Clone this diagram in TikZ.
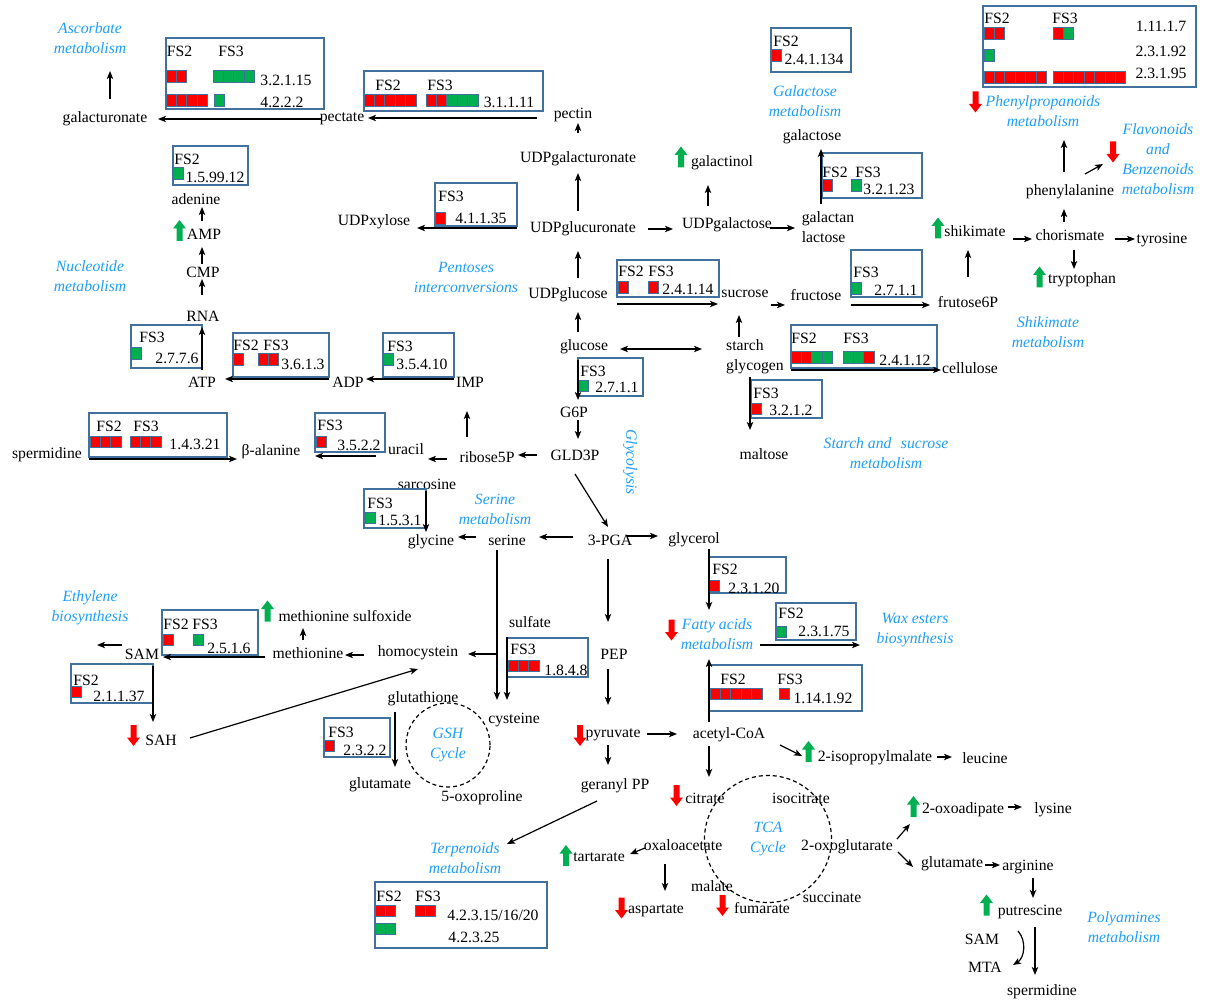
\documentclass[tikz,border=0pt]{standalone}
\usepackage{fontspec}
\setmainfont{Liberation Serif}
\usetikzlibrary{arrows.meta,calc,fit}

\definecolor{boxc}{HTML}{41719C}
\definecolor{labblue}{RGB}{30,158,250}
\definecolor{sqred}{HTML}{FF0000}
\definecolor{sqgreen}{HTML}{00B050}

\tikzset{
  ebox/.style={draw=boxc, line width=0.7pt, inner sep=0pt},
  lab/.style={text=labblue, font=\fontsize{7.85}{10}\selectfont\itshape, align=center},
  cyc/.style={lab, circle, draw=black, dash pattern=on 2pt off 1.5pt, line width=0.6pt, inner sep=0pt},
  upmark/.pic={\fill[sqgreen] (0,-10.5) -- (6.5,-2) -- (3,-2) -- (3,10.5) -- (-3,10.5) -- (-3,-2) -- (-6.5,-2) -- cycle;},
  downmark/.pic={\fill[sqred] (0,10.5) -- (6.5,2) -- (3,2) -- (3,-10.5) -- (-3,-10.5) -- (-3,2) -- (-6.5,2) -- cycle;},
}

% row of expression squares: x, y, colours
\newcommand\cells[3]{\foreach \col [count=\i from 0] in {#3}{\filldraw[fill=\col,draw=boxc,line width=0.5pt] (#1+10.4*\i,#2) rectangle ++(10.4,11.5);}}

\begin{document}
\begin{tikzpicture}[x=0.5pt,y=-0.5pt,font=\fontsize{7.85}{10}\selectfont,
  line width=0.6pt, >={Stealth[length=4pt,width=3.2pt,inset=1pt]}]

\useasboundingbox (0,0) rectangle (1205,1000);

\begin{scope}[yshift=-1pt]
% metabolites
\node (galur) at (105,117) {galacturonate};
\node (pectate) at (342,117) {pectate};
\node (pectin) at (573,113) {pectin};
\node (udpgalur) at (578,157) {UDPgalacturonate};
\node (udpglcur) at (583,227) {UDPglucuronate};
\node (udpxyl) at (374,220) {UDPxylose};
\node (udpgal) at (727,223) {UDPgalactose};
\node (galactinol) at (722,161) {galactinol};
\node (galactose) at (812,135) {galactose};
\node[align=left] (galactan) at (828,225) {galactan\\lactose};
\node (udpglc) at (568,293) {UDPglucose};
\node (sucrose) at (745,292) {sucrose};
\node (fructose) at (816,293) {fructose};
\node (fru6p) at (968,300) {frutose6P};
\node (shikimate) at (975,229) {shikimate};
\node (chorismate) at (1070,233) {chorismate};
\node (tyrosine) at (1162,238) {tyrosine};
\node (tryptophan) at (1082,278) {tryptophan};
\node (phe) at (1070,190) {phenylalanine};
\node (adenine) at (196,197) {adenine};
\node (amp) at (204,232) {AMP};
\node (cmp) at (203,270) {CMP};
\node (rna) at (203,314) {RNA};
\node (atp) at (202,380) {ATP};
\node (adp) at (348,380) {ADP};
\node (imp) at (470,380) {IMP};
\node (glucose) at (584,345) {glucose};
\node[align=left] (starch) at (755,355) {starch\\glycogen};
\node (cellulose) at (970,366) {cellulose};
\node (maltose) at (764,452) {maltose};
\node (g6p) at (574,410) {G6P};
\node (gld3p) at (575,453) {GLD3P};
\node (ribose) at (487,455) {ribose5P};
\node (uracil) at (406,447) {uracil};
\node (bala) at (271,450) {β-alanine};
\node (spd) at (47,453) {spermidine};
\node (sarcosine) at (427,482) {sarcosine};
\node (glycine) at (431,540) {glycine};
\node (serine) at (507,538) {serine};
\node (pga) at (610,538) {3-PGA};
\node (glycerol) at (694,538) {glycerol};
\node (pep) at (614,652) {PEP};
\node (sulfate) at (530,620) {sulfate};
\node (hcys) at (418,651) {homocystein};
\node (met) at (308,651) {methionine};
\node (metso) at (345,614) {methionine sulfoxide};
\node (sam) at (142,652) {SAM};
\node (sah) at (161,738) {SAH};
\node (gsh) at (423,697) {glutathione};
\node (cys) at (514,718) {cysteine};
\node (glu) at (380,783) {glutamate};
\node (oxopro) at (482,796) {5-oxoproline};
\node (pyr) at (613,733) {pyruvate};
\node (acoa) at (729,733) {acetyl-CoA};
\node (gpp) at (615,784) {geranyl PP};
\node (ipm) at (875,756) {2-isopropylmalate};
\node (leu) at (985,756) {leucine};
\node (cit) at (705,796) {citrate};
\node (icit) at (801,796) {isocitrate};
\node (oaa) at (683,843) {oxaloacetate};
\node (akg) at (847,845) {2-oxoglutarate};
\node (tart) at (599,855) {tartarate};
\node (mal) at (712,884) {malate};
\node (asp) at (656,909) {aspartate};
\node (fum) at (762,906) {fumarate};
\node (suc) at (832,895) {succinate};
\node (oad) at (963,808) {2-oxoadipate};
\node (lys) at (1053,808) {lysine};
\node (glub) at (952,862) {glutamate};
\node (arg) at (1028,865) {arginine};
\node (put) at (1030,910) {putrescine};
\node (samb) at (982,937) {SAM};
\node (mta) at (985,965) {MTA};
\node (spdb) at (1042,990) {spermidine};
\end{scope}

% pathway labels
\node[lab] (ascorbate) at (90,38) {Ascorbate\\metabolism};
\node[lab] (nucleo) at (90,276) {Nucleotide\\metabolism};
\node[lab] (pentoses) at (466,277) {Pentoses\\interconversions};
\node[lab] (galmet) at (805,101) {Galactose\\metabolism};
\node[lab] (phenylprop) at (1043,111) {Phenylpropanoids\\metabolism};
\node[lab] (flavo) at (1158,159) {Flavonoids\\and\\Benzenoids\\metabolism};
\node[lab] (shikmet) at (1048,332) {Shikimate\\metabolism};
\node[lab] (starchmet) at (886,453) {Starch and\hspace{0.6em}sucrose\\metabolism};
\node[lab, rotate=-90] (glycolysis) at (630,462) {Glycolysis};
\node[lab] (sermet) at (495,509) {Serine\\metabolism};
\node[lab] (ethylene) at (90,608) {Ethylene\\biosynthesis};
\node[lab] (fatty) at (717,634) {Fatty acids\\metabolism};
\node[lab] (wax) at (915,630) {Wax esters\\biosynthesis};
\node[lab] (terpmet) at (465,858) {Terpenoids\\metabolism};
\node[lab] (polymet) at (1124,927) {Polyamines\\metabolism};
\node[cyc, minimum size=42pt] (gshcyc) at (448,745) {GSH\\Cycle};
\node[cyc, minimum size=63.5pt] (tcacyc) at (768,839) {TCA\\Cycle};

% up / down changes
\pic at (179.5,230.5) {upmark};
\pic at (681,157) {upmark};
\pic at (938,228) {upmark};
\pic at (1039.5,277) {upmark};
\pic at (267.5,611) {upmark};
\pic at (808.5,751.5) {upmark};
\pic at (566,855.5) {upmark};
\pic at (913.5,806.5) {upmark};
\pic at (986.5,905) {upmark};
\pic at (975.5,102) {downmark};
\pic at (1113,152) {downmark};
\pic at (133.5,735.5) {downmark};
\pic at (580,735.5) {downmark};
\pic at (671.5,630) {downmark};
\pic at (676.5,795.5) {downmark};
\pic at (621.5,908) {downmark};
\pic at (722.5,905.5) {downmark};

% enzyme boxes
\node[ebox, fit={(166,38) (324,109)}] (b32115) {};
\cells{166}{71}{sqred,sqred}
\cells{213}{71}{sqgreen,sqgreen,sqgreen,sqgreen}
\cells{166}{95}{sqred,sqred,sqred,sqred}
\cells{214}{95}{sqgreen}

\node[ebox, fit={(364,71) (543,111)}] (b31111) {};
\cells{364}{95}{sqred,sqred,sqred,sqred,sqred}
\cells{426}{95}{sqred,sqred,sqgreen,sqgreen,sqgreen}

\node[ebox, fit={(173,146) (248,185)}] (b159912) {};
\cells{173}{168}{sqgreen}

\node[ebox, fit={(435,183) (517,226)}] (b41135) {};
\cells{435}{213}{sqred}

\node[ebox, fit={(771,28) (851,72)}] (b241134) {};
\cells{771}{50}{sqred}

\node[ebox, fit={(983,6) (1196,87)}] (bphe) {};
\cells{984}{28}{sqred,sqred}
\cells{1053}{28}{sqred,sqgreen}
\cells{984}{50}{sqgreen}
\cells{984}{72}{sqred,sqred,sqred,sqred,sqred,sqred}
\cells{1053}{72}{sqred,sqred,sqred,sqred,sqred,sqred,sqred}

\node[ebox, fit={(822,153) (922,198)}] (b32123) {};
\cells{822}{180}{sqred}
\cells{851}{180}{sqgreen}

\node[ebox, fit={(617,260) (719,297)}] (b24114) {};
\cells{618}{282}{sqred}
\cells{648}{282}{sqred}

\node[ebox, fit={(851,250) (922,297)}] (b2711a) {};
\cells{851}{283}{sqgreen}

\node[ebox, fit={(791,325) (937,368)}] (b24112) {};
\cells{791}{352}{sqred,sqred,sqgreen,sqgreen}
\cells{843}{352}{sqgreen,sqgreen,sqred}

\node[ebox, fit={(751,380) (822,418)}] (b3212) {};
\cells{751}{403}{sqred}

\node[ebox, fit={(578,358) (643,396)}] (b2711b) {};
\cells{578}{380}{sqgreen}

\node[ebox, fit={(131,325) (202,368)}] (b2776) {};
\cells{131}{348}{sqgreen}

\node[ebox, fit={(233,333) (329,377)}] (b3613) {};
\cells{233}{354}{sqred}
\cells{258}{354}{sqred,sqred}

\node[ebox, fit={(383,333) (454,377)}] (b35410) {};
\cells{383}{354}{sqgreen}

\node[ebox, fit={(89,413) (227,457)}] (b14321) {};
\cells{90}{436}{sqred,sqred,sqred}
\cells{130}{436}{sqred,sqred,sqred}

\node[ebox, fit={(315,413) (385,452)}] (b3522) {};
\cells{316}{436}{sqred}

\node[ebox, fit={(364,489) (426,528)}] (b1531) {};
\cells{365}{512}{sqgreen}

\node[ebox, fit={(162,610) (258,655)}] (b2516) {};
\cells{163}{634}{sqred}
\cells{193}{634}{sqgreen}

\node[ebox, fit={(71,664) (153,703)}] (b21137) {};
\cells{71}{686}{sqred}

\node[ebox, fit={(324,718) (390,757)}] (b2322) {};
\cells{324}{740}{sqred}

\node[ebox, fit={(507,638) (588,677)}] (b1848) {};
\cells{508}{660}{sqred,sqred,sqred}

\node[ebox, fit={(709,557) (786,593)}] (b23120) {};
\cells{709}{580}{sqred}

\node[ebox, fit={(776,603) (856,640)}] (b23175) {};
\cells{776}{626}{sqgreen}

\node[ebox, fit={(709,665) (862,711)}] (b114192) {};
\cells{710}{688}{sqred,sqred,sqred,sqred,sqred}
\cells{779}{688}{sqred}

\node[ebox, fit={(375,882) (547,948)}] (b4231) {};
\cells{375}{905}{sqred,sqred}
\cells{375}{923}{sqgreen,sqgreen}
\cells{415}{905}{sqred,sqred}

% box texts
\begin{scope}[yshift=-0.8pt]
\node (b32115a) at (179.5,50) {FS2};
\node (b32115b) at (231,50) {FS3};
\node (b32115e) at (286,79) {3.2.1.15};
\node (b4222e) at (282,101) {4.2.2.2};
\node (b31111a) at (388,84) {FS2};
\node (b31111b) at (440,84) {FS3};
\node (b31111e) at (509,101) {3.1.1.11};
\node (b159912a) at (187,158) {FS2};
\node (b159912e) at (215,176) {1.5.99.12};
\node (b41135a) at (451,195) {FS3};
\node (b41135e) at (481,217) {4.1.1.35};
\node (b241134a) at (786,40) {FS2};
\node (b241134e) at (814,58) {2.4.1.134};
\node (bphea) at (997,17) {FS2};
\node (bpheb) at (1065,17) {FS3};
\node (bphee) at (1161,25) {1.11.1.7};
\node (bphef) at (1161,50) {2.3.1.92};
\node (bpheg) at (1161,72) {2.3.1.95};
\node (b32123a) at (835,171) {FS2};
\node (b32123b) at (868,171) {FS3};
\node (b32123e) at (889,188) {3.2.1.23};
\node (b24114a) at (631,270) {FS2};
\node (b24114b) at (661,270) {FS3};
\node (b24114e) at (688,288) {2.4.1.14};
\node (b2711aa) at (866,271) {FS3};
\node (b2711ae) at (896,289) {2.7.1.1};
\node (b24112a) at (804,337) {FS2};
\node (b24112b) at (856,337) {FS3};
\node (b24112e) at (905,359) {2.4.1.12};
\node (b3212a) at (766,392) {FS3};
\node (b3212e) at (791,409) {3.2.1.2};
\node (b2711ba) at (593,370) {FS3};
\node (b2711be) at (617,386) {2.7.1.1};
\node (b2776a) at (152,336) {FS3};
\node (b2776e) at (177,357) {2.7.7.6};
\node (b3613a) at (246,344) {FS2};
\node (b3613b) at (276,344) {FS3};
\node (b3613e) at (303,363) {3.6.1.3};
\node (b35410a) at (400,345) {FS3};
\node (b35410e) at (422,363) {3.5.4.10};
\node (b14321a) at (109,425) {FS2};
\node (b14321b) at (146,425) {FS3};
\node (b14321e) at (195,443) {1.4.3.21};
\node (b3522a) at (330,424) {FS3};
\node (b3522e) at (359,444) {3.5.2.2};
\node (b1531a) at (380,502) {FS3};
\node (b1531e) at (400,519) {1.5.3.1};
\node (b2516a) at (176,623) {FS2};
\node (b2516b) at (205,623) {FS3};
\node (b2516e) at (229,647) {2.5.1.6};
\node (b21137a) at (86,679) {FS2};
\node (b21137e) at (119,695) {2.1.1.37};
\node (b2322a) at (341,731) {FS3};
\node (b2322e) at (365,749) {2.3.2.2};
\node (b1848a) at (523,648) {FS3};
\node (b1848e) at (566,669) {1.8.4.8};
\node (b23120a) at (725,568) {FS2};
\node (b23120e) at (754,587) {2.3.1.20};
\node (b23175a) at (791,612) {FS2};
\node (b23175e) at (824,630) {2.3.1.75};
\node (b114192a) at (733,678) {FS2};
\node (b114192b) at (790,678) {FS3};
\node (b114192e) at (823,697) {1.14.1.92};
\node (b4231a) at (389,895) {FS2};
\node (b4231b) at (428,895) {FS3};
\node (b4231e) at (493,914) {4.2.3.15/16/20};
\node (b4231f) at (474,936) {4.2.3.25};
\end{scope}

% reactions
\begin{scope}[yshift=1pt]
\draw[->] ($(pectate)+(-21,0)$) -- ($(galur)+(53,0)$);
\draw[->] ($(galur)+(5,-20)$) -- ($(ascorbate)+(20,33)$);
\draw[->] ($(pectin)+(-36,3)$) -- ($(pectate)+(26,-1)$);
\draw[->] ($(udpgalur)+(0,-26)$) -- ($(pectin)+(5,8)$);
\draw[->] ($(udpglcur)+(-5,-18)$) -- ($(udpgalur)+(0,14)$);
\draw[->] ($(udpglc)+(10,-17)$) -- ($(udpglcur)+(-5,22)$);
\draw[->] ($(glucose)+(-6,-15)$) -- ($(udpglc)+(10,17)$);
\draw[->] ($(udpglcur)+(-66,-1)$) -- ($(udpxyl)+(43,6)$);
\draw[->] ($(udpglcur)+(65,0)$) -- ($(udpgal)+(-54,4)$);
\draw[->] ($(udpgal)+(-19,-19)$) -- ($(galactinol)+(-14,22)$);
\draw[->] ($(udpgal)+(43,3)$) -- ($(galactan)+(-33,1)$);
\draw[->] ($(galactan)+(-7,-23)$) -- ($(galactose)+(9,12)$);
\draw[->] ($(udpglc)+(49,9)$) -- ($(sucrose)+(-27,10)$);
\draw[->] ($(sucrose)+(26,11)$) -- ($(fructose)+(-31,10)$);
\draw[->] ($(fructose)+(35,10)$) -- ($(fru6p)+(-38,3)$);
\draw[->] ($(fru6p)+(0,-25)$) -- ($(shikimate)+(-7,19)$);
\draw[->] ($(shikimate)+(38,8)$) -- ($(chorismate)+(-38,4)$);
\draw[->] ($(chorismate)+(45,4)$) -- ($(tyrosine)+(-27,-1)$);
\draw[->] ($(chorismate)+(4,15)$) -- ($(tryptophan)+(-8,-11)$);
\draw[->] ($(chorismate)+(-6,-13)$) -- ($(phe)+(-6,17)$);
\draw[->] ($(phe)+(-6,-20)$) -- ($(phenylprop)+(21,29)$);
\draw[->] ($(phe)+(15,-18)$) -- ($(flavo)+(-55,5)$);
\draw[->] ($(starch)+(-16,-20)$) -- ($(sucrose)+(-6,21)$);
\draw[<->] ($(glucose)+(36,2)$) -- ($(starch)+(-53,-8)$);
\draw[->] ($(starch)+(36,13)$) -- ($(cellulose)+(-29,2)$);
\draw[->] ($(starch)+(-5,20)$) -- ($(maltose)+(-14,-24)$);
\draw[->] ($(glucose)+(-6,13)$) -- ($(g6p)+(4,-12)$);
\draw[->] ($(g6p)+(4,8)$) -- ($(gld3p)+(3,-16)$);
\draw[->] ($(gld3p)+(0,19)$) -- ($(pga)+(-2,-13)$);
\draw[->] ($(gld3p)+(-38,0)$) -- ($(ribose)+(31,-2)$);
\draw[->] ($(ribose)+(-20,-20)$) -- ($(imp)+(-3,29)$);
\draw[->] ($(ribose)+(-40,2)$) -- ($(uracil)+(22,10)$);
\draw[->] ($(uracil)+(-30,7)$) -- ($(bala)+(44,4)$);
\draw[->] ($(spd)+(42,4)$) -- ($(bala)+(-34,7)$);
\draw[->] ($(imp)+(-16,-3)$) -- ($(adp)+(18,-3)$);
\draw[->] ($(adp)+(-19,-3)$) -- ($(atp)+(23,-3)$);
\draw[->] ($(atp)+(0,-12)$) -- ($(rna)+(-1,11)$);
\draw[->] ($(rna)+(-1,-21)$) -- ($(cmp)+(-1,7)$);
\draw[->] ($(cmp)+(-1,-8)$) -- ($(amp)+(-2,13)$);
\draw[->] ($(amp)+(-2,-13)$) -- ($(adenine)+(6,8)$);
\draw[->] ($(sarcosine)+(-1,7)$) -- ($(glycine)+(-5,-10)$);
\draw[->] ($(pga)+(-37,-3)$) -- ($(serine)+(32,-3)$);
\draw[->] ($(serine)+(-31,-3)$) -- ($(glycine)+(27,-5)$);
\draw[->] ($(pga)+(17,-4)$) -- ($(glycerol)+(-36,-4)$);
\draw[->] ($(pga)+(-2,19)$) -- ($(pep)+(-6,-32)$);
\draw[->] ($(glycerol)+(15,9)$) -- ($(fatty)+(-8,-24)$);
\draw[->] ($(fatty)+(43,11)$) -- ($(wax)+(-55,15)$);
\draw[->] ($(acoa)+(-20,-13)$) -- ($(fatty)+(-8,25)$);
\draw[->] ($(serine)+(-10,10)$) -- ($(cys)+(-17,-20)$);
\draw[->] ($(serine)+(-10,114)$) -- ($(hcys)+(50,1)$);
\draw[->] ($(sulfate)+(-23,15)$) -- ($(cys)+(-7,-20)$);
\draw[->] ($(hcys)+(-54,2)$) -- ($(met)+(37,2)$);
\draw[->] ($(met)+(-5,-13)$) -- ($(metso)+(-42,12)$);
\draw[->] ($(met)+(-43,4)$) -- ($(sam)+(21,3)$);
\draw[->] ($(sam)+(-20,-9)$) -- ($(ethylene)+(7,37)$);
\draw[->] ($(sam)+(11,12)$) -- ($(sah)+(-8,-18)$);
\draw[->] ($(sah)+(29,-2)$) -- ($(hcys)+(0,16)$);
\draw[->] ($(gsh)+(-28,13)$) -- ($(glu)+(15,-18)$);
\draw[->] ($(pep)+(-6,15)$) -- ($(pyr)+(-5,-30)$);
\draw[->] ($(pyr)+(34,-1)$) -- ($(acoa)+(-52,-1)$);
\draw[->] ($(pyr)+(-5,10)$) -- ($(gpp)+(-7,-21)$);
\draw[->] ($(gpp)+(-18,15)$) -- ($(terpmet)+(42,-14)$);
\draw[->] ($(acoa)+(-20,11)$) -- ($(cit)+(4,-21)$);
\draw[->] ($(acoa)+(51,10)$) -- ($(ipm)+(-73,-2)$);
\draw[->] ($(ipm)+(62,-1)$) -- ($(leu)+(-33,-1)$);
\draw[->] ($(oaa)+(-38,3)$) -- ($(tart)+(31,-3)$);
\draw[->] ($(oaa)+(-18,19)$) -- ($(asp)+(9,-20)$);
\draw[->] ($(akg)+(50,-8)$) -- ($(oad)+(-53,14)$);
\draw[->] ($(oad)+(45,-3)$) -- ($(lys)+(-31,-3)$);
\draw[->] ($(akg)+(51,5)$) -- ($(glub)+(-39,3)$);
\draw[->] ($(glub)+(33,1)$) -- ($(arg)+(-28,-2)$);
\draw[->] ($(arg)+(5,11)$) -- ($(put)+(3,-14)$);
\draw[->] ($(put)+(5,15)$) -- ($(spdb)+(-7,-17)$);
\draw[->] ($(samb)+(36,-8)$) to[bend left=50] ($(mta)+(28,-2)$);
\end{scope}

\end{tikzpicture}
\end{document}
